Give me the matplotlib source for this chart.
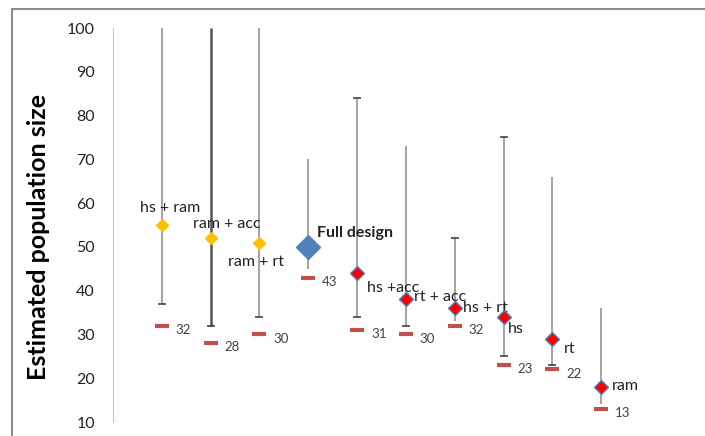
import matplotlib.pyplot as plt
from matplotlib.patches import Rectangle

plt.rcParams['font.family'] = ['Lato', 'DejaVu Sans']

# data
designs = ['hs + ram', 'ram + acc', 'ram + rt', 'Full design', 'hs +acc',
           'rt + acc', 'hs + rt', 'hs', 'rt', 'ram']
estimate = [55, 52, 51, 50, 44, 38, 36, 34, 29, 18]
upper = [100, 100, 100, 70, 84, 73, 52, 75, 66, 36]
lower = [37, 32, 34, 45, 34, 32, 33, 25, 23, 14]
observed = [32, 28, 30, 43, 31, 30, 32, 23, 22, 13]
top_cap = [False, False, False, False, True, False, True, True, False, False]
bot_cap = [True, True, True, False, True, True, False, True, True, False]

x = list(range(1, len(designs) + 1))

fig = plt.figure(figsize=(7.05, 4.36), dpi=100)
# outer chart frame
fig.patches.append(Rectangle((12/705, -0.1), 1.0, 1 - 9/436 + 0.1,
                             transform=fig.transFigure, fill=False,
                             edgecolor='#8c8c8c', lw=1.5))
ax = fig.add_axes([113/705, 1 - 422/436, 537/705, 394/436])

for i in range(len(x)):
    c = '#555555' if i == 1 else '#8a8a8a'
    lw = 1.8 if i == 1 else 1.1
    ax.vlines(x[i], lower[i], upper[i], color=c, lw=lw, zorder=1)
    if top_cap[i]:
        ax.plot(x[i], upper[i], marker='_', ms=6, mew=1.1, color='#333333', zorder=2)
    if bot_cap[i]:
        ax.plot(x[i], lower[i], marker='_', ms=6, mew=1.1, color='#333333', zorder=2)

# observed counts
ax.plot(x, observed, ls='none', marker='_', ms=10, mew=3, color='#C0504D', zorder=3)
for xi, v in zip(x, observed):
    ax.annotate(str(v), (xi, v), xytext=(10, -3), textcoords='offset points',
                fontsize=9.5, color='#404040', va='center')

# estimates
ax.plot(x[:3], estimate[:3], ls='none', marker='D', ms=6, color='#FFC000',
        mec='#FFC000', zorder=4)
ax.plot(x[3], estimate[3], ls='none', marker='D', ms=12, color='#4F81BD', zorder=4)
ax.plot(x[4:], estimate[4:], ls='none', marker='D', ms=7, color='#FF0000',
        mec='#4F81BD', mew=1, zorder=4)

offsets = [(-16, 12), (-13, 10), (-23, -14), (6, 10), (7, -11),
           (6, 2), (6, 0), (3, -9), (8, -7), (8, 1)]
for i in range(len(x)):
    ax.annotate(designs[i], (x[i], estimate[i]), xytext=offsets[i],
                textcoords='offset points', fontsize=11.5,
                fontweight='bold' if i == 3 else 'normal',
                color='#222222', va='center')

ax.set_xlim(0, 11)
ax.set_ylim(10, 100)
ax.set_yticks(range(10, 101, 10))
ax.set_xticks([])
for s in ['top', 'right', 'bottom']:
    ax.spines[s].set_visible(False)
ax.spines['left'].set_color('#c8c8c8')
ax.tick_params(axis='y', length=0, pad=13, labelsize=11.5, labelcolor='#222222')
ax.set_ylabel('Estimated population size', fontsize=18, fontweight='bold')
ax.yaxis.set_label_coords(-0.117, 0.47)

fig.savefig('out.png', dpi=100)
